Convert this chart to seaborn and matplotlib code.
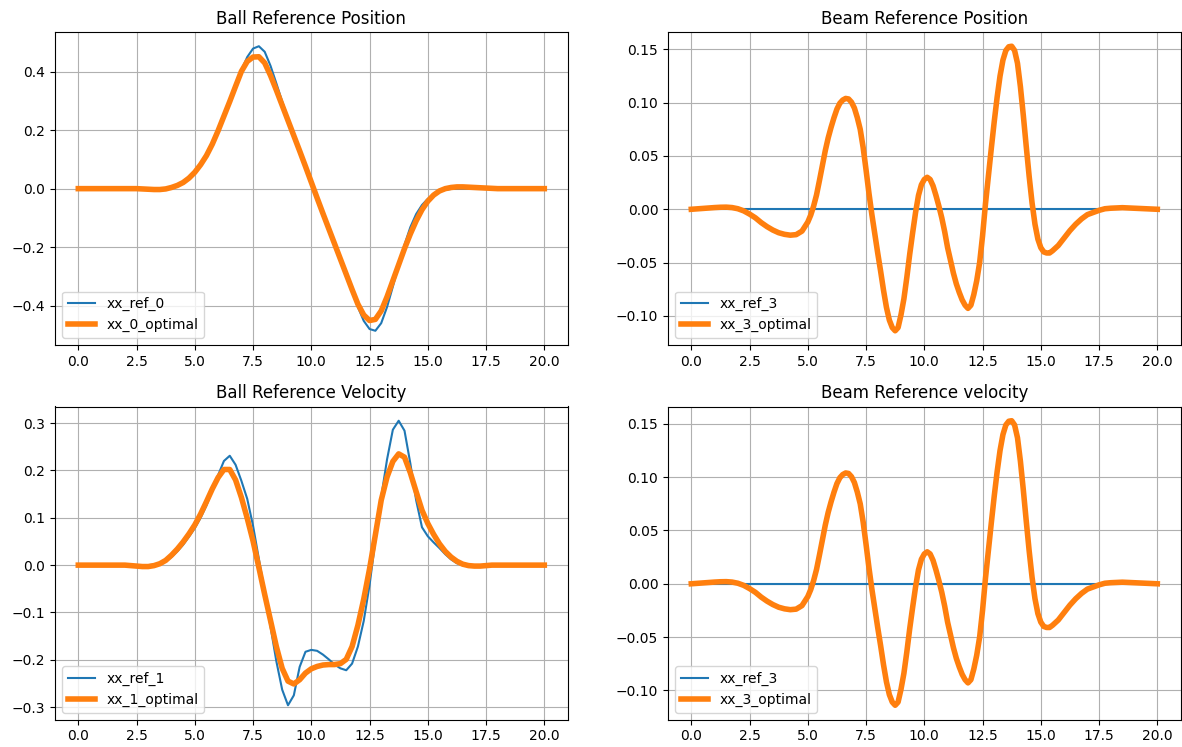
import numpy as np
import matplotlib
matplotlib.use("Agg")
import matplotlib.pyplot as plt
import seaborn as sns

# Time axis of the ball trajectories (0.25 s sampling)
t_ball = np.linspace(0.0, 20.0, 81)

# Ball position: reference and optimal trajectory
ball_pos_ref = [
    0, 0, 0, 0, 0, 0, 0, 0, 0, 0, 0, 0,
    0.0, 0.0, 0.0, 0.001,
    0.003, 0.009, 0.019, 0.033,
    0.053, 0.079, 0.111, 0.150,
    0.195, 0.245, 0.298, 0.352,
    0.405, 0.450, 0.479, 0.487,
    0.468, 0.420, 0.360, 0.298,
    0.240, 0.183, 0.128, 0.074,
    0.020, -0.034, -0.087, -0.139,
    -0.190, -0.242, -0.295, -0.350,
    -0.405, -0.452, -0.480, -0.486,
    -0.460, -0.405, -0.335, -0.262,
    -0.192, -0.132, -0.087, -0.056,
    -0.035, -0.020, -0.010, -0.004,
    -0.001,
    0, 0, 0, 0, 0, 0, 0, 0, 0, 0, 0, 0, 0, 0, 0, 0,
]
ball_pos_opt = [
    0, 0, 0, 0, 0, 0, 0, 0,
    0.0, 0.0, 0.0, -0.001,
    -0.002, -0.003, -0.003, -0.001,
    0.004, 0.011, 0.021, 0.036,
    0.056, 0.082, 0.113, 0.152,
    0.198, 0.248, 0.298, 0.350,
    0.401, 0.435, 0.450, 0.451,
    0.430, 0.387, 0.337, 0.285,
    0.233, 0.181, 0.129, 0.076,
    0.022, -0.032, -0.085, -0.137,
    -0.189, -0.241, -0.293, -0.345,
    -0.395, -0.432, -0.451, -0.447,
    -0.418, -0.370, -0.315, -0.260,
    -0.205, -0.155, -0.110, -0.072,
    -0.043, -0.022, -0.008, 0.000,
    0.004, 0.006, 0.006, 0.005,
    0.004, 0.003, 0.002, 0.001,
    0, 0, 0, 0, 0, 0, 0, 0, 0,
]

# Ball velocity: reference and optimal trajectory
ball_vel_ref = [
    0, 0, 0, 0, 0, 0, 0, 0, 0, 0, 0, 0,
    0.0, 0.001, 0.003, 0.008,
    0.017, 0.029, 0.043, 0.060,
    0.078, 0.100, 0.126, 0.158,
    0.190, 0.220, 0.231, 0.212,
    0.178, 0.140, 0.083, 0.013,
    -0.057, -0.130, -0.203, -0.263,
    -0.296, -0.275, -0.215, -0.183,
    -0.179, -0.181, -0.189, -0.199,
    -0.210, -0.218, -0.222, -0.208,
    -0.172, -0.118, -0.042, 0.052,
    0.144, 0.223, 0.286, 0.305,
    0.284, 0.215, 0.137, 0.080,
    0.061, 0.048, 0.036, 0.023,
    0.012, 0.004, 0.0, 0.0,
    0, 0, 0, 0, 0, 0, 0, 0, 0, 0, 0, 0, 0,
]
ball_vel_opt = [
    0, 0, 0, 0, 0, 0, 0, 0,
    0.0, -0.001, -0.002, -0.003,
    -0.003, -0.001, 0.003, 0.010,
    0.021, 0.034, 0.049, 0.066,
    0.085, 0.108, 0.134, 0.161,
    0.185, 0.202, 0.202, 0.180,
    0.143, 0.099, 0.051, -0.005,
    -0.062, -0.117, -0.172, -0.218,
    -0.245, -0.251, -0.242, -0.228,
    -0.219, -0.214, -0.211, -0.210,
    -0.210, -0.208, -0.199, -0.172,
    -0.127, -0.072, -0.008, 0.064,
    0.137, 0.186, 0.219, 0.235,
    0.228, 0.195, 0.155, 0.116,
    0.088, 0.065, 0.045, 0.029,
    0.017, 0.008, 0.002, -0.001,
    -0.002, -0.002, -0.001, 0.0,
    0, 0, 0, 0, 0, 0, 0, 0, 0,
]

# Beam angle: sampling is denser where the trajectory oscillates
t_beam = np.concatenate([
    np.arange(0.0, 5.0, 0.25),
    np.arange(5.0, 15.5, 0.125),
    np.arange(15.5, 18.0, 0.25),
    np.arange(18.0, 20.01, 0.5),
])
beam_opt = [
    # 0.0 - 4.75
    0.0, 0.0004, 0.0008, 0.0012, 0.0016, 0.0019, 0.002, 0.0016,
    0.0005, -0.0015, -0.0045, -0.008, -0.0125, -0.0163, -0.0195, -0.022,
    -0.0235, -0.0243, -0.0238, -0.0205,
    # 5.0 - 15.375
    -0.012, -0.0055, 0.003, 0.0135, 0.027, 0.041, 0.055, 0.067,
    0.077, 0.086, 0.094, 0.0995, 0.1025, 0.104, 0.1035, 0.1005,
    0.095, 0.086, 0.075, 0.058, 0.037, 0.015, -0.005, -0.023,
    -0.041, -0.058, -0.076, -0.092, -0.104, -0.111, -0.114, -0.111,
    -0.099, -0.084, -0.064, -0.042, -0.022, -0.003, 0.013, 0.023,
    0.028, 0.030, 0.028, 0.022, 0.013, 0.003, -0.008, -0.021,
    -0.036, -0.048, -0.060, -0.070, -0.078, -0.085, -0.090, -0.093,
    -0.090, -0.080, -0.067, -0.050, -0.025, 0.005, 0.031, 0.057,
    0.082, 0.105, 0.125, 0.140, 0.149, 0.1525, 0.153, 0.149,
    0.137, 0.115, 0.088, 0.059, 0.031, 0.006, -0.014, -0.028,
    -0.036, -0.040, -0.041, -0.041,
    # 15.5 - 17.75
    -0.039, -0.034, -0.027, -0.020, -0.014, -0.009, -0.005, -0.003,
    -0.001, 0.0005,
    # 18.0 - 20.0
    0.001, 0.0015, 0.001, 0.0005, 0.0,
]
beam_ref = [0.0] * len(t_beam)

panels = [
    ("Ball Reference Position", t_ball, ball_pos_ref, ball_pos_opt, "xx_ref_0", "xx_0_optimal"),
    ("Beam Reference Position", t_beam, beam_ref, beam_opt, "xx_ref_3", "xx_3_optimal"),
    ("Ball Reference Velocity", t_ball, ball_vel_ref, ball_vel_opt, "xx_ref_1", "xx_1_optimal"),
    ("Beam Reference velocity", t_beam, beam_ref, beam_opt, "xx_ref_3", "xx_3_optimal"),
]

W, H = 1182, 747
fig = plt.figure(figsize=(W / 100, H / 100), dpi=100)

# axes boxes in pixels: (left, top, width, height)
boxes = [
    (55, 32, 512.6, 313),
    (668, 32, 512.6, 313),
    (55, 406.5, 512.6, 313),
    (668, 406.5, 512.6, 313),
]

for (title, t, ref, opt, lab_ref, lab_opt), (l, tp, w, h) in zip(panels, boxes):
    ax = fig.add_axes([l / W, 1 - (tp + h) / H, w / W, h / H])
    sns.lineplot(x=np.asarray(t), y=np.asarray(ref), ax=ax, color="#1f77b4",
                 linewidth=1.5, label=lab_ref)
    sns.lineplot(x=np.asarray(t), y=np.asarray(opt), ax=ax, color="#ff7f0e",
                 linewidth=4, label=lab_opt)
    ax.set_title(title, fontsize=12)
    ax.set_xlabel("")
    ax.set_ylabel("")
    ax.grid(True)
    ax.legend(loc="lower left")

fig.savefig("out.png", dpi=100)
